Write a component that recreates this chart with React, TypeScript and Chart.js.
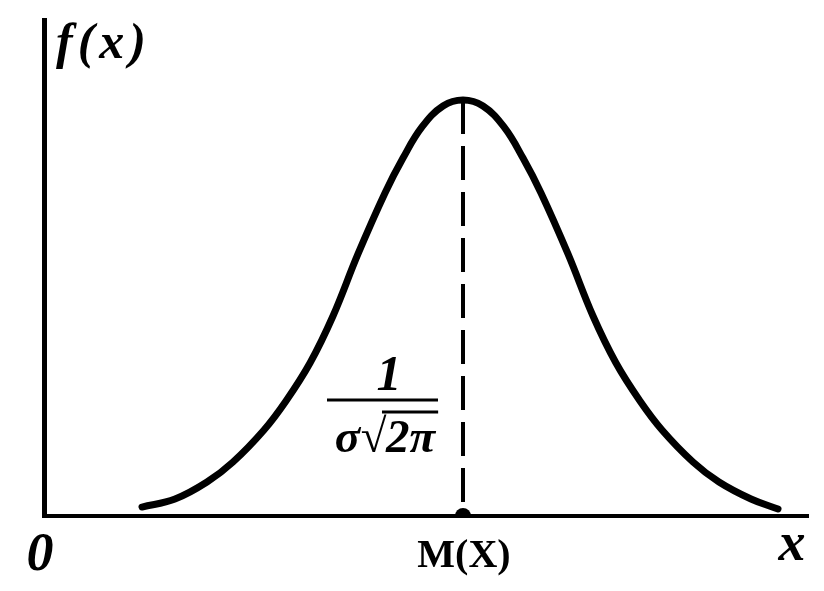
import { useEffect, useRef } from "react";
import { Chart, registerables } from "chart.js";

Chart.register(...registerables);

// Density curve (x: distance from origin, y: f(x))
const curveX = [0.98, 1.31, 1.63, 1.89, 2.2, 2.42, 2.66, 2.89, 3.14, 3.41, 3.59, 3.78, 3.99, 4.19, 4.39, 4.6, 4.79, 4.97, 5.24, 5.49, 5.72, 5.96, 6.18, 6.49, 6.75, 7.07, 7.34];
const curveY = [0.0086, 0.0163, 0.0326, 0.0518, 0.0825, 0.1103, 0.1467, 0.1918, 0.2513, 0.3098, 0.3433, 0.3731, 0.3932, 0.3989, 0.3932, 0.3731, 0.3433, 0.3098, 0.2513, 0.1918, 0.1467, 0.1103, 0.0825, 0.0518, 0.0326, 0.0163, 0.0067];

const meanX = 4.19;
const peakY = 0.3989;
const xMin = 0;
const xMax = 7.64;
const yMin = 0;
const yMax = 0.4757;

const yAxisLabel = "f(x)";
const xAxisLabel = "x";
const originLabel = "0";
const meanLabel = "M(X)";
const fracNumerator = "1";
const fracSigma = "σ";
const fracRoot = "√";
const fracRadicand = "2π";

const SERIF = '"Liberation Serif", "DejaVu Serif", serif';

const labelsPlugin = {
  id: "labels",
  beforeDraw(chart: any) {
    const { ctx, width, height } = chart;
    ctx.save();
    ctx.fillStyle = "#ffffff";
    ctx.fillRect(0, 0, width, height);
    ctx.restore();
  },
  afterDraw(chart: any) {
    const { ctx, chartArea, scales } = chart;
    const xs = scales.x;
    const ys = scales.y;
    const mx = xs.getPixelForValue(meanX);
    const base = ys.getPixelForValue(0);
    ctx.save();
    ctx.fillStyle = "#000";
    ctx.strokeStyle = "#000";

    // f(x)
    ctx.font = `bold italic 50px ${SERIF}`;
    ctx.textAlign = "left";
    ctx.textBaseline = "alphabetic";
    (ctx as any).letterSpacing = "5px";
    ctx.fillText(yAxisLabel, chartArea.left + 12, chartArea.top + 38);
    (ctx as any).letterSpacing = "0px";

    // 0
    ctx.font = `bold italic 54px ${SERIF}`;
    ctx.textAlign = "center";
    ctx.fillText(originLabel, chartArea.left - 4, base + 54);

    // x
    ctx.font = `bold italic 54px ${SERIF}`;
    ctx.textAlign = "center";
    ctx.fillText(xAxisLabel, chartArea.right - 16, base + 44);

    // M(X)
    ctx.font = `bold 40px ${SERIF}`;
    ctx.textAlign = "center";
    ctx.fillText(meanLabel, mx + 1, base + 51);

    // fraction 1 / (σ√2π)
    const barY = base - 116;
    const barCx = mx - 81;
    ctx.lineWidth = 3;
    ctx.beginPath();
    ctx.moveTo(barCx - 55, barY);
    ctx.lineTo(barCx + 56, barY);
    ctx.stroke();

    ctx.font = `bold italic 50px ${SERIF}`;
    ctx.textAlign = "center";
    ctx.fillText(fracNumerator, barCx + 7, barY - 10);

    ctx.font = `bold italic 47px ${SERIF}`;
    ctx.textAlign = "left";
    const wS = ctx.measureText(fracSigma).width;
    const wR = ctx.measureText(fracRoot).width;
    const wN = ctx.measureText(fracRadicand).width;
    const total = wS + wR + wN;
    let sx = barCx - total / 2 + 3;
    const denBase = barY + 52;
    ctx.fillText(fracSigma, sx, denBase);
    sx += wS;
    ctx.fillText(fracRoot, sx, denBase);
    const rootEnd = sx + wR;
    sx += wR;
    ctx.fillText(fracRadicand, sx, denBase);
    ctx.lineWidth = 3;
    ctx.beginPath();
    ctx.moveTo(rootEnd - 4, barY + 12);
    ctx.lineTo(sx + wN + 3, barY + 12);
    ctx.stroke();

    ctx.restore();
  },
};

export default function App() {
  const canvasRef = useRef<HTMLCanvasElement | null>(null);

  useEffect(() => {
    const canvas = canvasRef.current;
    if (!canvas) return;
    const curve = curveX.map((x, i) => ({ x, y: curveY[i] }));
    const chart = new Chart(canvas, {
      type: "line",
      data: {
        datasets: [
          {
            data: curve,
            borderColor: "#000",
            borderWidth: 7,
            borderCapStyle: "round",
            borderJoinStyle: "round",
            tension: 0.4,
            pointRadius: 0,
            fill: false,
          },
          {
            data: [
              { x: meanX, y: peakY },
              { x: meanX, y: 0 },
            ],
            borderColor: "#000",
            borderWidth: 4,
            borderDash: [34, 12],
            pointRadius: [0, 8],
            pointBackgroundColor: "#000",
            pointBorderWidth: 0,
            fill: false,
          },
        ],
      },
      options: {
        responsive: false,
        animation: false,
        events: [],
        layout: { padding: { left: 44, top: 20, right: 16, bottom: 75 } },
        plugins: {
          legend: { display: false },
          tooltip: { enabled: false },
          title: { display: false },
        },
        scales: {
          x: {
            type: "linear",
            min: xMin,
            max: xMax,
            grid: { display: false, drawTicks: false },
            ticks: { display: false },
            border: { display: true, color: "#000", width: 4 },
          },
          y: {
            type: "linear",
            min: yMin,
            max: yMax,
            grid: { display: false, drawTicks: false },
            ticks: { display: false },
            border: { display: true, color: "#000", width: 5 },
          },
        },
      },
      plugins: [labelsPlugin],
    });
    return () => chart.destroy();
  }, []);

  return (
    <div style={{ position: "fixed", left: 0, top: 0, width: 824, height: 591, background: "#fff" }}>
      <canvas ref={canvasRef} width={824} height={591} style={{ display: "block", width: 824, height: 591 }} />
    </div>
  );
}
